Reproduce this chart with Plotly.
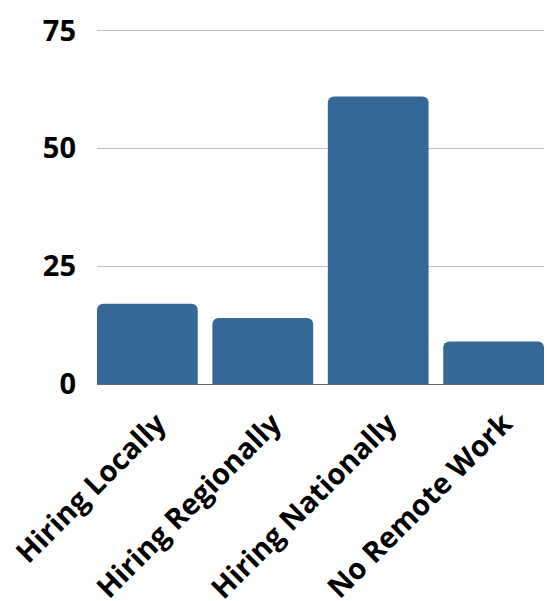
import plotly.graph_objects as go

categories = ["Hiring Locally", "Hiring Regionally", "Hiring Nationally", "No Remote Work"]
values = [17, 14, 61, 9]
y_ticks = [0, 25, 50, 75]

bar_color = "#356896"
font_family = "Open Sans"
gap = 0.127

fig = go.Figure(
    go.Bar(
        x=categories,
        y=values,
        marker=dict(color=bar_color, line=dict(width=0), cornerradius=6),
        hoverinfo="skip",
    )
)

fig.update_layout(
    width=552,
    height=601,
    margin=dict(l=97, r=8, t=29, b=217, autoexpand=False),
    paper_bgcolor="white",
    plot_bgcolor="white",
    bargap=gap,
    showlegend=False,
    font=dict(family=font_family, color="black"),
)

fig.update_xaxes(
    range=[-0.5 + gap / 2, 3.5 - gap / 2],
    tickangle=-45,
    tickfont=dict(family=font_family, size=29, weight="bold", color="black"),
    showgrid=False,
    showline=True,
    linecolor="#666666",
    linewidth=1,
    ticks="",
    ticklabelstandoff=10,
    ticklabelshift=10,
)

fig.update_yaxes(
    range=[0, 75.3],
    tickvals=y_ticks,
    ticktext=[str(v) for v in y_ticks],
    tickfont=dict(family=font_family, size=29, weight="bold", color="black"),
    showgrid=True,
    gridcolor="#c0c0c0",
    gridwidth=1,
    zeroline=False,
    showline=False,
    ticks="",
    ticklabelstandoff=20,
)

fig.write_html("out.html")
